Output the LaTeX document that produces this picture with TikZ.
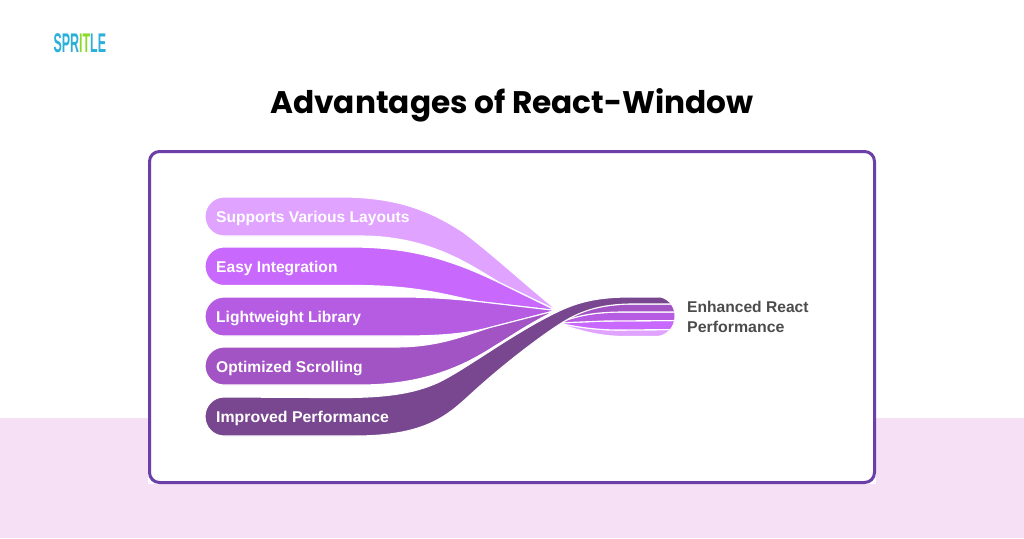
\documentclass[tikz,border=0pt]{standalone}
\usepackage{fontspec}
\setmainfont{Liberation Sans}
\newfontfamily\titlefont{Poppins}
\definecolor{bandA}{HTML}{E0A3FF}
\definecolor{bandB}{HTML}{C968FC}
\definecolor{bandC}{HTML}{B65CE2}
\definecolor{bandD}{HTML}{A253C4}
\definecolor{bandE}{HTML}{78478F}
\definecolor{framec}{HTML}{6C3FA8}
\definecolor{pinkbg}{HTML}{F6E0F5}
\definecolor{logoblue}{HTML}{2BB0D9}
\definecolor{logogreen}{HTML}{8CD92B}
\tikzset{
  x=1pt,y=-1pt,
  band/.style={draw=white,line width=1.1pt,line join=round},
  bandlabel/.style={anchor=west,text=white,font=\bfseries\fontsize{15.6}{18}\selectfont,inner sep=0pt},
  sidelabel/.style={anchor=west,text=black!70,font=\bfseries\fontsize{15.6}{18}\selectfont,inner sep=0pt},
}
\begin{document}
\begin{tikzpicture}
\useasboundingbox (0,0) rectangle (1024,538);
\fill[white] (0,0) rectangle (1024,538);
\fill[pinkbg] (0,418) rectangle (1024,538);
\fill[white] (148,150) rectangle (876,484);
\draw[framec,fill=white,line width=3pt,rounded corners=10pt] (149.5,151.5) rectangle (874.5,482.5);
\begin{scope}
\clip (0,0) -- (656,0) -- (656,297) .. controls (666,297) and (674.5,305) .. (674.5,316) .. controls (674.5,327) and (666,336) .. (656,336) -- (656,538) -- (0,538) -- cycle;
% right fan
\fill[bandA,band] (557,323) .. controls (578,327) and (595,330) .. (620,330) -- (680,329.5) -- (680,336.5) -- (625,336.5) .. controls (600,336.5) and (580,331) .. (557,323) -- cycle;
\fill[bandB,band] (557,323) -- (605,321) -- (680,320.5) -- (680,329.5) -- (620,330) .. controls (595,330) and (578,327) .. (557,323) -- cycle;
\fill[bandC,band] (557,323) .. controls (578,316) and (590,312.5) .. (620,312) -- (680,312) -- (680,320.5) -- (605,321) -- cycle;
\fill[bandD,band] (557,323) .. controls (578,311) and (600,304.5) .. (630,304) -- (680,304) -- (680,312) -- (620,312) .. controls (590,312.5) and (578,316) .. (557,323) -- cycle;
% left bands
\fill[bandA,band] (224,197) -- (340,197) .. controls (390,197) and (425,207) .. (463,232) .. controls (490,252) and (520,280) .. (558,311) -- (500,283) .. controls (470,265) and (430,236) .. (360,236) -- (224,236) .. controls (213.5,236) and (205,227.5) .. (205,216.5) .. controls (205,205.5) and (213.5,197) .. (224,197) -- cycle;
\fill[bandB,band] (224,247) -- (350,247) .. controls (410,247) and (450,259) .. (500,283) -- (556,310.5) -- (478,301.5) .. controls (450,296) and (420,286) .. (360,285.5) -- (224,285.5) .. controls (213.5,285.5) and (205,277) .. (205,266.25) .. controls (205,255.5) and (213.5,247) .. (224,247) -- cycle;
\fill[bandC,band] (224,297) -- (400,297) .. controls (430,297) and (455,299) .. (478,301.5) -- (556,310.5) -- (490,327.5) .. controls (465,334) and (440,336) .. (400,336) -- (224,336) .. controls (213.5,336) and (205,327.5) .. (205,316.5) .. controls (205,305.5) and (213.5,297) .. (224,297) -- cycle;
\fill[bandD,band] (224,347) -- (395,347) .. controls (440,347) and (465,335) .. (490,327.5) -- (556,310.5) .. controls (530,323) and (510,337) .. (495,346) .. controls (470,362) and (430,385) .. (360,385) -- (224,385) .. controls (213.5,385) and (205,376.5) .. (205,366) .. controls (205,355.5) and (213.5,347) .. (224,347) -- cycle;
\fill[bandE,band] (224,397) -- (320,397.5) .. controls (370,398) and (405,397) .. (437,383) .. controls (465,370) and (510,335) .. (555,313) .. controls (575,303) and (595,297) .. (630,297) -- (680,297) -- (680,304) -- (630,304) .. controls (600,304.5) and (580,311) .. (560,324) .. controls (535,340) and (497,370) .. (470,395) .. controls (447,416) and (425,436) .. (355,436) -- (224,436) .. controls (213.5,436) and (205,427.5) .. (205,416.5) .. controls (205,405.5) and (213.5,397) .. (224,397) -- cycle;
\end{scope}
\node[bandlabel] (l1) at (216,218) {Supports Various Layouts};
\node[bandlabel] (l2) at (216,268) {Easy Integration};
\node[bandlabel] (l3) at (216,318) {Lightweight Library};
\node[bandlabel] (l4) at (216,368) {Optimized Scrolling};
\node[bandlabel,xscale=1.017] (l5) at (216,418) {Improved Performance};
\node[sidelabel] (r1) at (687,307) {Enhanced React};
\node[sidelabel,xscale=1.02] (r2) at (687,327) {Performance};
\node[anchor=center,inner sep=0pt,font=\titlefont\bfseries\fontsize{31.2}{36}\selectfont] (title) at (512,105.5) {Advantages of React-Window};
\node[anchor=west,inner sep=0pt,xscale=0.46,font=\bfseries\fontsize{27}{28}\selectfont] (logo) at (53.5,43.5) {\color{logoblue}SPR\color{logogreen}IT\color{logoblue}LE};
\end{tikzpicture}
\end{document}
